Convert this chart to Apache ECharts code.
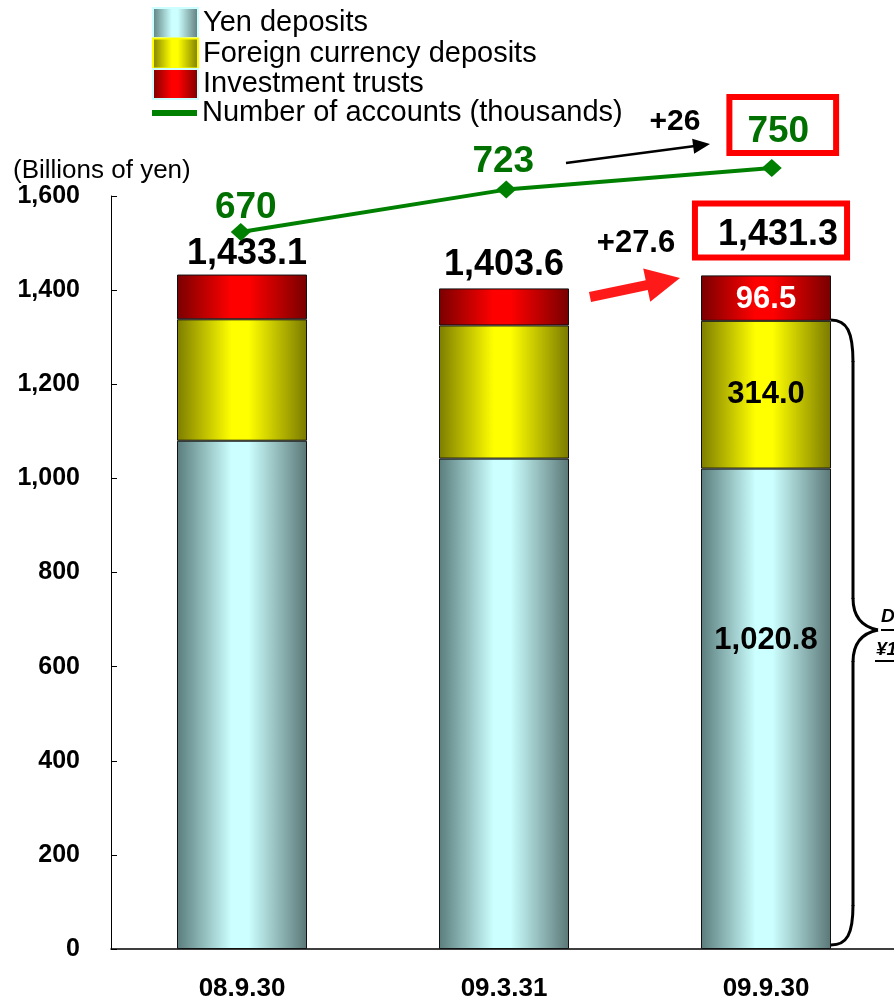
<!DOCTYPE html>
<html><head><meta charset="utf-8">
<script src="https://cdn.jsdelivr.net/npm/echarts@6/dist/echarts.min.js"></script>
<style>html,body{margin:0;padding:0;background:#fff}#c{width:894px;height:1002px}</style>
</head><body><div id="c"></div>
<script>
// ---- data ----
const categories = ['08.9.30', '09.3.31', '09.9.30'];
const yenDeposits = [1080.0, 1042.0, 1020.8];
const foreignDeposits = [258.0, 283.0, 314.0];
const investmentTrusts = [95.1, 78.6, 96.5];
const totals = [1433.1, 1403.6, 1431.3];
const accounts = [670, 723, 750];
const yTickLabels = ['0', '200', '400', '600', '800', '1,000', '1,200', '1,400', '1,600'];
const seriesNames = ['Yen deposits', 'Foreign currency deposits', 'Investment trusts', 'Number of accounts (thousands)'];
const unitLabel = '(Billions of yen)';
const accountsChange = '+26';
const totalChange = '+27.6';
const braceLines = ['Deposits', '\u00a51,334.8 billion'];

const FONT = '"Liberation Sans", Arial, sans-serif';
const fmt1 = v => Number(v).toLocaleString('en-US', {minimumFractionDigits: 1, maximumFractionDigits: 1});

function grad(dark, light, dark2) {
  return new echarts.graphic.LinearGradient(0, 0, 1, 0, [
    {offset: 0, color: dark}, {offset: 0.42, color: light},
    {offset: 0.55, color: light}, {offset: 1, color: dark2 || dark}
  ]);
}
function arrowPoly(x0, y0, x1, y1, sh, hl, hh) {
  const dx = x1 - x0, dy = y1 - y0, L = Math.hypot(dx, dy);
  const ux = dx / L, uy = dy / L, nx = -uy, ny = ux;
  const bx = x1 - ux * hl, by = y1 - uy * hl;
  return [[x0 + nx * sh, y0 + ny * sh], [bx + nx * sh, by + ny * sh], [bx + nx * hh, by + ny * hh],
          [x1, y1], [bx - nx * hh, by - ny * hh], [bx - nx * sh, by - ny * sh], [x0 - nx * sh, y0 - ny * sh]];
}

const last = categories.length - 1;
const insideLabel = (color, offset) => ({
  show: true, position: 'inside', offset: offset || [0, 0], color: color,
  fontSize: 31, fontWeight: 'bold', fontFamily: FONT, formatter: p => fmt1(p.value)
});

const yenData = yenDeposits.map((v, i) => i === last ? {value: v, label: insideLabel('#000', [0, -68])} : v);
const forData = foreignDeposits.map((v, i) => i === last ? {value: v, label: insideLabel('#000')} : v);
const invData = investmentTrusts.map((v, i) => i === last ? {value: v, label: insideLabel('#fff', [0, 1])} : v);

const totalOffsets = [[5, 0], [0, -3]];
const totalData = totals.map((v, i) => {
  if (i !== last) return {value: v, label: {offset: totalOffsets[i]}};
  return {value: v, label: {
    distance: 20.5, offset: [5, 0], borderColor: '#ff0000', borderWidth: 6,
    padding: [11, 6, 1, 20], backgroundColor: '#fff'
  }};
});

const lineLabelOffsets = [[5, 4], [-3, 1]];
const accData = accounts.map((v, i) => {
  if (i !== last) return {value: v, label: {offset: lineLabelOffsets[i]}};
  return {value: v, label: {
    distance: 9, offset: [11, 0], borderColor: '#ff0000', borderWidth: 6,
    padding: [13, 24, 0, 15], backgroundColor: '#fff'
  }};
});

const chart = echarts.init(document.getElementById('c'), null, {renderer: 'canvas'});

const redArrow = arrowPoly(590, 297, 680, 278, 5, 34, 17);
const blackArrow = arrowPoly(566, 163, 710, 144, 1.3, 17, 7.5);
const braceStyle = {stroke: '#000', lineWidth: 3, fill: null};

const legendText = {fontSize: 29, color: '#000', fontFamily: FONT, lineHeight: 30};
const legendTops = [7, 37.5, 68, 98];
const legendBorders = ['#ccffff', '#ffff00', '#ccffff'];
const legends = seriesNames.map((name, i) => ({
  orient: 'vertical', left: 152, top: legendTops[i], padding: 0, itemWidth: 45,
  itemHeight: i < 3 ? 30 : 6, textStyle: legendText, selectedMode: false,
  data: [i < 3 ? {name: name, icon: 'rect', itemStyle: {borderColor: legendBorders[i], borderWidth: 2}}
               : {name: name, icon: 'rect', itemStyle: {color: '#008000', borderWidth: 0}}]
}));

const option = {
  animation: false,
  backgroundColor: '#fff',
  textStyle: {fontFamily: FONT},
  legend: legends,
  grid: [
    {left: 111, width: 786, top: 196, height: 753, outerBoundsMode: 'none', containLabel: false},
    {left: 108, width: 796.5, top: 196, height: 753, outerBoundsMode: 'none', containLabel: false}
  ],
  xAxis: [{
    type: 'category', data: categories, gridIndex: 0,
    axisLine: {lineStyle: {color: '#000', width: 1.5}},
    axisTick: {inside: true, length: 8, lineStyle: {color: '#000'}},
    axisLabel: {margin: 27, fontSize: 26, fontWeight: 'bold', color: '#000', fontFamily: FONT}
  }, {
    type: 'category', data: categories, gridIndex: 1, show: false
  }],
  yAxis: [{
    type: 'value', min: 0, max: 1600, interval: 200, gridIndex: 0,
    axisLine: {show: true, lineStyle: {color: '#000', width: 1}},
    axisTick: {show: true, inside: true, length: 6, lineStyle: {color: '#000'}},
    splitLine: {show: false},
    axisLabel: {margin: 31, fontSize: 25, fontWeight: 'bold', color: '#000', fontFamily: FONT,
      formatter: (v) => yTickLabels[Math.round(v / 200)]}
  }, {
    type: 'value', min: -226.25, max: 715, gridIndex: 1, show: false, splitLine: {show: false}
  }],
  series: [{
    name: seriesNames[0], type: 'bar', stack: 'a', barWidth: 130, data: yenData,
    itemStyle: {color: grad('#5a7c7c', '#ccffff', '#5b7777'), borderColor: '#111', borderWidth: 1}
  }, {
    name: seriesNames[1], type: 'bar', stack: 'a', barWidth: 130, data: forData,
    itemStyle: {color: grad('#7d7d00', '#ffff00', '#7a7a00'), borderColor: '#111', borderWidth: 1}
  }, {
    name: seriesNames[2], type: 'bar', stack: 'a', barWidth: 130, data: invData,
    itemStyle: {color: grad('#7a0000', '#ff0000', '#780000'), borderColor: '#111', borderWidth: 1}
  }, {
    name: 'Total', type: 'scatter', data: totalData, symbolSize: 1, z: 5,
    itemStyle: {color: 'rgba(0,0,0,0)', opacity: 1},
    label: {show: true, position: 'top', distance: 2, color: '#000', fontSize: 36, fontWeight: 'bold',
      fontFamily: FONT, formatter: p => fmt1(p.value)},
    emphasis: {disabled: true},
    tooltip: {show: false}
  }, {
    name: seriesNames[3], type: 'line', xAxisIndex: 1, yAxisIndex: 1, data: accData, clip: false, z: 6,
    lineStyle: {color: '#008000', width: 4}, itemStyle: {color: '#008000'},
    symbol: 'diamond', symbolSize: [20, 18],
    label: {show: true, position: 'top', distance: 1, color: '#007000', fontSize: 37, fontWeight: 'bold',
      fontFamily: FONT}
  }],
  graphic: [
    {type: 'text', x: 13, y: 171, style: {text: unitLabel, fontSize: 26, fontFamily: FONT, fill: '#000', verticalAlign: 'middle'}},
    {type: 'text', x: 675, y: 122, style: {text: accountsChange, fontSize: 30, fontWeight: 'bold', fontFamily: FONT, fill: '#000', align: 'center', verticalAlign: 'middle'}},
    {type: 'text', x: 636, y: 243, style: {text: totalChange, fontSize: 31, fontWeight: 'bold', fontFamily: FONT, fill: '#000', align: 'center', verticalAlign: 'middle'}},
    {type: 'polygon', shape: {points: blackArrow}, style: {fill: '#000'}},
    {type: 'polygon', shape: {points: redArrow}, style: {fill: '#ff1a1a'}},
    {type: 'bezierCurve', shape: {x1: 831, y1: 320, cpx1: 847, cpy1: 320, cpx2: 853, cpy2: 332, x2: 853, y2: 362}, style: braceStyle},
    {type: 'line', shape: {x1: 853, y1: 361, x2: 853, y2: 599}, style: braceStyle},
    {type: 'bezierCurve', shape: {x1: 853, y1: 598, cpx1: 853, cpy1: 618, cpx2: 863, cpy2: 627, x2: 878, y2: 630}, style: braceStyle},
    {type: 'bezierCurve', shape: {x1: 878, y1: 630, cpx1: 863, cpy1: 633, cpx2: 853, cpy2: 642, x2: 853, y2: 662}, style: braceStyle},
    {type: 'line', shape: {x1: 853, y1: 661, x2: 853, y2: 906}, style: braceStyle},
    {type: 'bezierCurve', shape: {x1: 853, y1: 905, cpx1: 853, cpy1: 934, cpx2: 847, cpy2: 945, x2: 831, y2: 945}, style: braceStyle},
    {type: 'text', x: 881, y: 617, style: {text: braceLines[0], fontSize: 19, fontWeight: 'bold', fontStyle: 'italic', fontFamily: FONT, fill: '#000', verticalAlign: 'middle'}},
    {type: 'line', shape: {x1: 881, y1: 630, x2: 894, y2: 630}, style: {stroke: '#000', lineWidth: 2}},
    {type: 'text', x: 876, y: 650, style: {text: braceLines[1], fontSize: 19, fontWeight: 'bold', fontStyle: 'italic', fontFamily: FONT, fill: '#000', verticalAlign: 'middle'}},
    {type: 'line', shape: {x1: 875, y1: 661, x2: 894, y2: 661}, style: {stroke: '#000', lineWidth: 2}}
  ]
};
chart.setOption(option);
</script></body></html>
